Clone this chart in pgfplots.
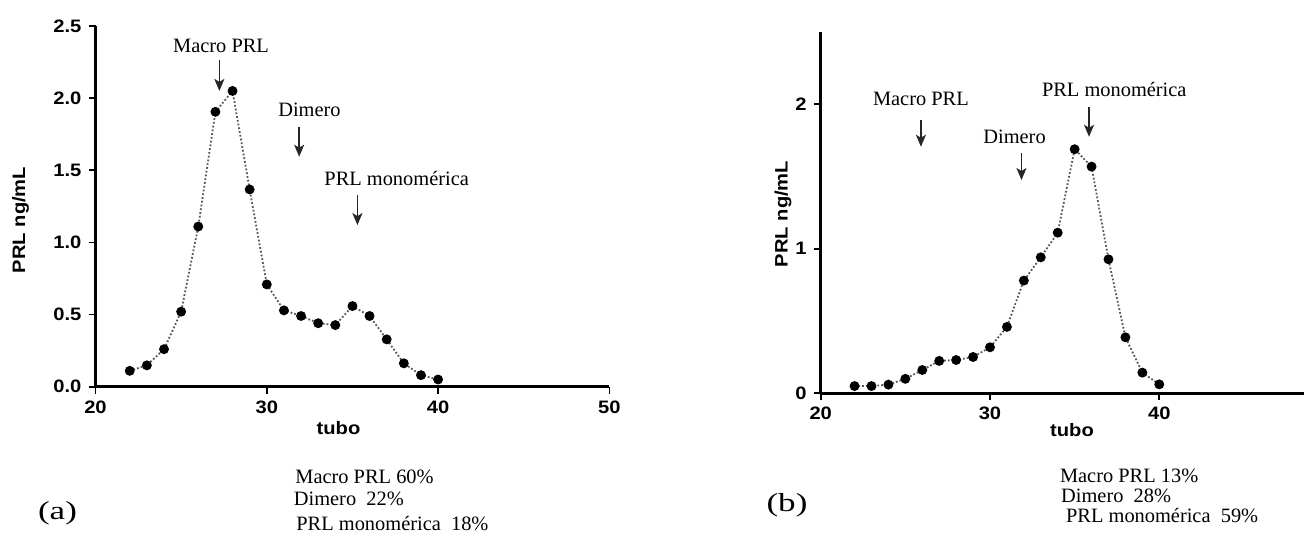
\documentclass[border=0pt]{standalone}
\usepackage{pgfplots}
\pgfplotsset{compat=1.18}
\usepackage{fontspec}
\setmainfont{Liberation Serif}
\newfontfamily\sansw{Liberation Sans}[FakeStretch=1.12]
\newfontfamily\serifw{Liberation Serif}[FakeStretch=1.35]
\usetikzlibrary{arrows.meta}

\pgfplotsset{
 prl/.style={
  scale only axis, anchor=south west,
  axis x line=bottom, axis y line=left,
  axis line style={-, line width=1.3pt},
  tick align=outside, major tick length=3.5pt,
  tick style={line width=0.9pt, black},
  enlargelimits=false,
  xmin=20, ymin=0, ymax=2.5,
  ticklabel style={font=\sansw\bfseries\fontsize{9}{10}\selectfont},
  /pgf/number format/assume math mode=true,
  clip=false,
 },
 ser/.style={densely dotted, line width=0.9pt, black!65, mark=*, mark size=2pt, mark options={solid, fill=black, draw=black}},
}
\tikzset{arr/.style={-{Stealth[length=6pt,width=5pt,inset=1.5pt]}, line width=0.8pt, black!85},
 ann/.style={font=\fontsize{10.2}{12}\selectfont}}

\begin{document}
\begin{tikzpicture}
\path[use as bounding box] (0,0) rectangle (652pt,267pt);

% ---------- (a) ----------
\begin{axis}[prl,
  at={(47.75pt,73.65pt)}, width=256.95pt, height=180.35pt,
  xmax=50, xtick={20,30,40,50},
  ytick={0,0.5,1,1.5,2,2.5}, yticklabels={0.0,0.5,1.0,1.5,2.0,2.5}]
\addplot[ser] coordinates {
 (22,0.11) (23,0.148) (24,0.26) (25,0.52) (26,1.11) (27,1.905) (28,2.05)
 (29,1.367) (30,0.709) (31,0.529) (32,0.49) (33,0.44) (34,0.427) (35,0.559)
 (36,0.49) (37,0.328) (38,0.162) (39,0.08) (40,0.05)};
\node[ann] at (axis cs:27.33,2.36) {Macro PRL};
\draw[arr] (axis cs:27.23,2.264) -- (axis cs:27.23,2.05);
\node[ann] at (axis cs:32.49,1.917) {Dimero};
\draw[arr] (axis cs:31.89,1.80) -- (axis cs:31.89,1.594);
\node[ann] at (axis cs:37.58,1.444) {PRL monomérica};
\draw[arr] (axis cs:35.29,1.328) -- (axis cs:35.29,1.12);
\end{axis}

% ---------- (b) ----------
\begin{axis}[prl,
  at={(410.35pt,70.35pt)}, width=241.65pt, height=180.85pt,
  xmax=48.55, xtick={20,30,40},
  ytick={0,1,2}]
\addplot[ser] coordinates {
 (22,0.05) (23,0.05) (24,0.06) (25,0.10) (26,0.161) (27,0.224) (28,0.23)
 (29,0.251) (30,0.318) (31,0.459) (32,0.779) (33,0.94) (34,1.11) (35,1.687)
 (36,1.567) (37,0.926) (38,0.387) (39,0.143) (40,0.062)};
\node[ann] at (axis cs:25.92,2.034) {Macro PRL};
\draw[arr] (axis cs:25.92,1.889) -- (axis cs:25.92,1.704);
\node[ann] at (axis cs:31.45,1.773) {Dimero};
\draw[arr] (axis cs:31.86,1.658) -- (axis cs:31.86,1.474);
\node[ann] at (axis cs:37.34,2.10) {PRL monomérica};
\draw[arr] (axis cs:35.85,1.976) -- (axis cs:35.85,1.773);
\end{axis}

% axis titles
\node[rotate=90, font=\sansw\bfseries\fontsize{9}{10}\selectfont] at (10.25pt,157pt) {PRL ng/mL};
\node[rotate=90, font=\sansw\bfseries\fontsize{9}{10}\selectfont] at (391.5pt,160pt) {PRL ng/mL};
\node[font=\sansw\bfseries\fontsize{9}{10}\selectfont] at (169.25pt,53pt) {tubo};
\node[font=\sansw\bfseries\fontsize{9}{10}\selectfont] at (536pt,52pt) {tubo};

% percentages
\node[ann, anchor=base west, inner sep=0pt] at (147.5pt,25pt) {Macro PRL 60\%};
\node[ann, anchor=base west, inner sep=0pt] at (146.75pt,14pt) {Dimero\ \ 22\%};
\node[ann, anchor=base west, inner sep=0pt] at (148pt,1.5pt) {PRL monomérica\ \ 18\%};
\node[ann, anchor=base west, inner sep=0pt] at (529.8pt,25.6pt) {Macro PRL 13\%};
\node[ann, anchor=base west, inner sep=0pt] at (530.4pt,15.6pt) {Dimero\ \ 28\%};
\node[ann, anchor=base west, inner sep=0pt] at (532.85pt,5.6pt) {PRL monomérica\ \ 59\%};

% panel letters
\node[font=\serifw\fontsize{13}{15}\selectfont] at (28.75pt,10.5pt) {(a)};
\node[font=\serifw\fontsize{13}{15}\selectfont] at (393.5pt,14.5pt) {(b)};
\end{tikzpicture}
\end{document}
